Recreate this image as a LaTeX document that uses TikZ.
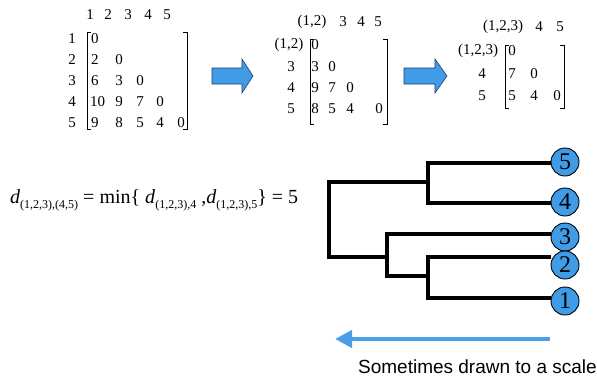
\documentclass[tikz,border=0pt]{standalone}
\usepackage{fontspec}
\setmainfont{Liberation Serif}
\newfontfamily\labelsans{Liberation Sans}
\usetikzlibrary{arrows.meta}
\definecolor{myblue}{RGB}{64,156,230}
\definecolor{arrowblue}{RGB}{74,160,232}
\definecolor{outlineblue}{RGB}{30,60,110}
\newcommand\mysub[1]{\raisebox{-5pt}{\fontsize{12}{12}\selectfont #1}}
\begin{document}
\begin{tikzpicture}[x=1pt,y=-1pt,
  mt/.style={font=\fontsize{15}{15}\selectfont, inner sep=0pt, anchor=center},
  mtw/.style={mt, anchor=west},
  bracket/.style={line width=0.9pt},
  blockarrow/.style={fill=myblue, draw=outlineblue, line width=0.6pt},
  treeedge/.style={line width=3.2pt, line join=miter},
  leaf/.style={circle, fill=myblue, draw=black, line width=0.9pt, minimum size=28pt, inner sep=0pt, font=\fontsize{24}{24}\selectfont}]
\useasboundingbox (0,0) rectangle (597,381);

% ---------- matrix 1 ----------
\foreach \lab/\x in {1/90,2/108,3/128,4/148,5/167}
  \node[mt] (m1h\lab) at (\x,15) {\lab};
\foreach \lab/\y in {1/39,2/60,3/81,4/102,5/123}
  \node[mt] (m1r\lab) at (72,\y) {\lab};
\node[mtw] (m1a11) at (91,39) {0};
\node[mtw] (m1a21) at (91,60) {2};
\node[mt] (m1a22) at (119,60) {0};
\node[mtw] (m1a31) at (91,81) {6};
\node[mt] (m1a32) at (119,81) {3};
\node[mt] (m1a33) at (140,81) {0};
\node[mtw] (m1a41) at (90,102) {10};
\node[mt] (m1a42) at (119,102) {9};
\node[mt] (m1a43) at (140,102) {7};
\node[mt] (m1a44) at (160,102) {0};
\node[mtw] (m1a51) at (91,123) {9};
\node[mt] (m1a52) at (119,123) {8};
\node[mt] (m1a53) at (140,123) {5};
\node[mt] (m1a54) at (160,123) {4};
\node[mt] (m1a55) at (181,123) {0};
\draw[bracket] (91,32) -- (87,32) -- (87,129) -- (91,129);
\draw[bracket] (183,32) -- (187,32) -- (187,129) -- (183,129);

% ---------- arrow 1 ----------
\draw[blockarrow] (212,68) -- (242,68) -- (242,59) -- (253,76) -- (242,93) -- (242,84) -- (212,84) -- cycle;

% ---------- matrix 2 ----------
\node[mt] (m2h12) at (312,22) {(1,2)};
\node[mt] (m2h3) at (343,22) {3};
\node[mt] (m2h4) at (361,22) {4};
\node[mt] (m2h5) at (378,22) {5};
\node[mt] (m2r12) at (289,45) {(1,2)};
\node[mt] (m2r3) at (291,67) {3};
\node[mt] (m2r4) at (291,88) {4};
\node[mt] (m2r5) at (291,109) {5};
\node[mt] (m2a11) at (315,45) {0};
\node[mt] (m2a21) at (315,67) {3};
\node[mt] (m2a22) at (332,67) {0};
\node[mt] (m2a31) at (315,88) {9};
\node[mt] (m2a32) at (332,88) {7};
\node[mt] (m2a33) at (350,88) {0};
\node[mt] (m2a41) at (315,109) {8};
\node[mt] (m2a42) at (332,109) {5};
\node[mt] (m2a43) at (350,109) {4};
\node[mt] (m2a44) at (379,109) {0};
\draw[bracket] (314,39) -- (310,39) -- (310,124) -- (314,124);
\draw[bracket] (383,39) -- (387,39) -- (387,124) -- (383,124);

% ---------- arrow 2 ----------
\draw[blockarrow] (404,68) -- (435,68) -- (435,59) -- (447,76) -- (435,93) -- (435,84) -- (404,84) -- cycle;

% ---------- matrix 3 ----------
\node[mt] (m3h123) at (503,27) {(1,2,3)};
\node[mt] (m3h4) at (539,27) {4};
\node[mt] (m3h5) at (560,27) {5};
\node[mt] (m3r123) at (478,51) {(1,2,3)};
\node[mt] (m3r4) at (482,74) {4};
\node[mt] (m3r5) at (482,96) {5};
\node[mt] (m3a11) at (512,51) {0};
\node[mt] (m3a21) at (512,74) {7};
\node[mt] (m3a22) at (534,74) {0};
\node[mt] (m3a31) at (512,96) {5};
\node[mt] (m3a32) at (534,96) {4};
\node[mt] (m3a33) at (557,96) {0};
\draw[bracket] (509,45) -- (505,45) -- (505,108) -- (509,108);
\draw[bracket] (560,45) -- (564,45) -- (564,108) -- (560,108);

% ---------- formula ----------
\node[anchor=base west, inner sep=0pt, font=\fontsize{20}{20}\selectfont] (formula) at (10,203)
  {\textit{d}\mysub{(1,2,3),(4,5)} = min\{ \textit{d}\mysub{(1,2,3),4} ,\textit{d}\mysub{(1,2,3),5}\} = 5};

% ---------- dendrogram ----------
\coordinate (l5) at (551,163);
\coordinate (l4) at (551,203);
\coordinate (l3) at (551,234);
\coordinate (l2) at (551,257);
\coordinate (l1) at (551,298);
\coordinate (j45) at (428,182);
\coordinate (j12) at (428,276);
\coordinate (j123) at (387,257);
\coordinate (root) at (329,220);
\draw[treeedge] (l5) -| (j45) |- (l4);
\draw[treeedge] (j45) -| (root) |- (j123);
\draw[treeedge] (l3) -| (j123) |- (j12);
\draw[treeedge] (l2) -| (j12) |- (l1);
\node[leaf] (c5) at (565,162) {5};
\node[leaf] (c4) at (565,202) {4};
\node[leaf] (c3) at (565,237) {3};
\node[leaf] (c2) at (565,265) {2};
\node[leaf] (c1) at (565,301) {1};

% ---------- scale arrow ----------
\coordinate (sa) at (550,339);
\coordinate (sb) at (335,339);
\draw[arrowblue, line width=4.5pt, -{Triangle[length=17pt,width=17pt]}] (sa) -- (sb);
\node[anchor=base east, inner sep=0pt, font=\labelsans\fontsize{19}{19}\selectfont] (caption) at (597,373) {Sometimes drawn to a scale};
\end{tikzpicture}
\end{document}
